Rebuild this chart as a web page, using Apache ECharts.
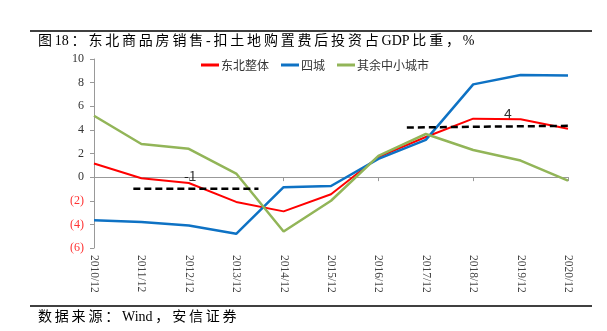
<!DOCTYPE html>
<html><head><meta charset="utf-8">
<script src="https://cdn.jsdelivr.net/npm/echarts@6/dist/echarts.min.js"></script>
<style>html,body{margin:0;padding:0;background:#fff}#c{width:607px;height:331px}</style>
</head><body><div id="c"></div>
<script>
const categories = ['2010/12','2011/12','2012/12','2013/12','2014/12','2015/12','2016/12','2017/12','2018/12','2019/12','2020/12'];
const northeast = [1.15, -0.1, -0.5, -2.1, -2.9, -1.45, 1.7, 3.4, 4.95, 4.9, 4.1];
const fourCities = [-3.65, -3.8, -4.1, -4.8, -0.85, -0.75, 1.55, 3.15, 7.85, 8.65, 8.6];
const otherCities = [5.2, 2.8, 2.4, 0.3, -4.6, -2.0, 1.8, 3.65, 2.3, 1.4, -0.3];
const refLow = [[0.83, -0.98], [3.47, -0.98]];
const refHigh = [[6.6, 4.2], [10.13, 4.35]];
const refLabels = [[2.03, -1, '-1'], [8.73, 4.3, '4']];
const yTicks = { min: -6, max: 10, interval: 2 };
const seriesNames = ['东北整体', '四城', '其余中小城市'];
const titleText = '图18：东北商品房销售-扣土地购置费后投资占GDP比重，%';
const sourceText = '数据来源：Wind，安信证券';

const spaced = s => {
  let out = '';
  const chars = Array.from(s);
  chars.forEach((c, i) => {
    out += c;
    const n = chars[i + 1];
    if (n && (/[^\x00-\x7f]/.test(c) || /[^\x00-\x7f]/.test(n))) out += '\u2009';
  });
  return out;
};

const chart = echarts.init(document.getElementById('c'));
const serif = '"Liberation Serif","Noto Sans CJK SC",serif';
const sans = '"Noto Sans CJK SC","Noto Sans",sans-serif';
chart.setOption({
  animation: false,
  grid: { left: 94, right: 39, top: 59, bottom: 83 },
  legend: {
    data: seriesNames, top: 54, left: 196, itemWidth: 18, itemHeight: 3, itemGap: 12,
    icon: 'rect',
    textStyle: { fontFamily: sans, fontSize: 12, color: '#333', padding: [0,0,0,-3] }
  },
  xAxis: [
    { type: 'category', data: categories, boundaryGap: false, position: 'bottom',
      axisLine: { onZero: true, lineStyle: { color: '#999', width: 1 } },
      axisTick: { show: true, length: 4, lineStyle: { color: '#999' } },
      axisLabel: { show: false }, splitLine: { show: false } },
    { type: 'category', data: categories, boundaryGap: false, position: 'bottom',
      axisLine: { show: false, onZero: false }, axisTick: { show: false },
      axisLabel: { rotate: -90, margin: 7, fontFamily: serif, fontSize: 11.5, color: '#444' } },
    { type: 'value', min: 0, max: 10, show: false }
  ],
  yAxis: {
    type: 'value', min: yTicks.min, max: yTicks.max, interval: yTicks.interval,
    axisLine: { show: true, lineStyle: { color: '#999' } },
    axisTick: { show: true, length: 4, lineStyle: { color: '#999' } },
    splitLine: { show: false },
    axisLabel: {
      margin: 10, fontFamily: serif, fontSize: 12, color: '#333',
      formatter: v => v < 0 ? '{n|(' + (-v) + ')}' : String(v),
      rich: { n: { color: '#FF3333', fontFamily: serif, fontSize: 12 } }
    }
  },
  series: [
    { name: seriesNames[0], type: 'line', data: northeast, symbol: 'none', xAxisIndex: 0,
      lineStyle: { color: '#FF0000', width: 2 }, itemStyle: { color: '#FF0000' } },
    { name: seriesNames[1], type: 'line', data: fourCities, symbol: 'none', xAxisIndex: 0,
      lineStyle: { color: '#0E72C4', width: 2.5 }, itemStyle: { color: '#0E72C4' } },
    { name: seriesNames[2], type: 'line', data: otherCities, symbol: 'none', xAxisIndex: 0,
      lineStyle: { color: '#92B558', width: 2.5 }, itemStyle: { color: '#92B558' } },
    { type: 'line', xAxisIndex: 2, data: refLow, symbol: 'none',
      lineStyle: { color: '#000', width: 2.5, type: [7, 4] } },
    { type: 'line', xAxisIndex: 2, data: refHigh, symbol: 'none',
      lineStyle: { color: '#000', width: 2.5, type: [7, 4] } },
    { type: 'scatter', xAxisIndex: 2, symbolSize: 0,
      data: refLabels.map(d => ({ value: [d[0], d[1]], label: { formatter: d[2] } })),
      label: { show: true, position: 'top', distance: 6, fontFamily: sans, fontSize: 14, color: '#000' } }
  ],
  graphic: [
    { type: 'line', shape: { x1: 30, y1: 31, x2: 592, y2: 31 }, style: { stroke: '#000', lineWidth: 1.5 } },
    { type: 'text', left: 38, top: 34, style: { text: spaced(titleText), font: '14px ' + serif, fill: '#000' } },
    { type: 'line', shape: { x1: 30, y1: 306, x2: 592, y2: 306 }, style: { stroke: '#000', lineWidth: 1.5 } },
    { type: 'text', left: 38, top: 310, style: { text: spaced(sourceText), font: '14px ' + serif, fill: '#000' } }
  ]
});
</script></body></html>
